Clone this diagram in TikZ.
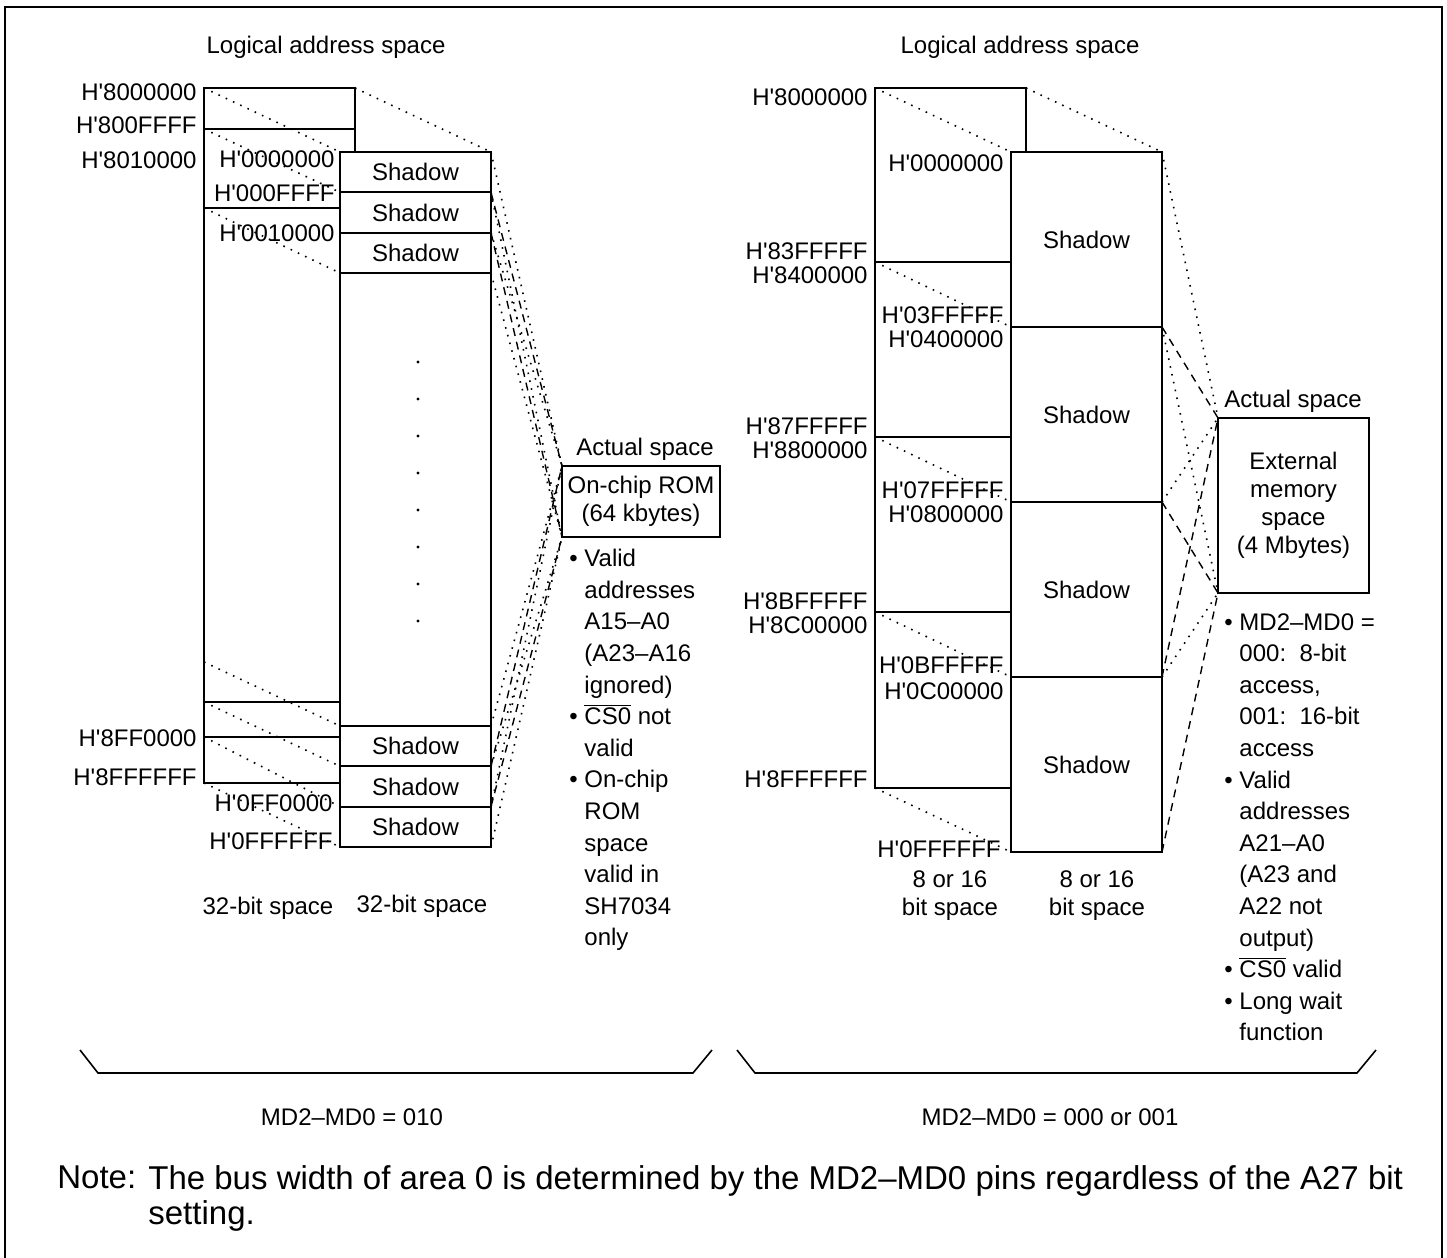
\documentclass[tikz,border=0pt]{standalone}
\usepackage{fontspec}
\setmainfont{Liberation Sans}
\usetikzlibrary{positioning}

\newcommand\hx[1]{H\textquotesingle #1}
\newcommand\ovbar[1]{\ensuremath{\overline{\mbox{#1}}}}
\newcommand\bul{\textbullet\ }
\newcommand\bulind{\phantom{\textbullet\ }}

\tikzset{
  membox/.style={draw, line width=1pt, minimum width=75.5pt, inner sep=0pt, outer sep=0pt, anchor=north west},
  shadowbox/.style={draw, fill=white, line width=1pt, minimum width=75.5pt, minimum height=20.17pt, inner sep=0pt, outer sep=0pt},
  bigshadow/.style={shadowbox, minimum height=87.5pt},
  addr/.style={anchor=east, inner sep=0pt},
  dotline/.style={line width=0.8pt, dash pattern=on 0.8pt off 3.2pt},
  dashline/.style={line width=0.7pt, dash pattern=on 4pt off 3pt},
  divline/.style={line width=1pt},
  notelist/.style={anchor=north west, align=left, inner sep=0pt}
}

\begin{document}
\begin{tikzpicture}[x=0.5pt, y=-0.5pt, every node/.style={font=\fontsize{12}{15.8}\selectfont}]
    \useasboundingbox (0,0) rectangle (1447,1258);
    % Frame
    \draw[line width=1pt] (5,1258) -- (5,7) -- (1442,7) -- (1442,1258);

    % ---------- MD2-MD0 = 010 ----------
    \node (titleA) at (326,47) {Logical address space};
    \node[membox, minimum height=347.5pt] (la) at (204,88) {};
    \coordinate (la1) at (204,129);
    \coordinate (la2) at (204,208);
    \coordinate (la3) at (204,662);
    \coordinate (la4) at (204,702);
    \coordinate (la5) at (204,737);
    \foreach \c in {la1,la2,la4,la5}
        \draw[divline] (\c) -- +(151,0);

    \node[membox, fill=white, minimum height=347.5pt] (ra) at (340,152) {};
    \node[shadowbox, anchor=north] (s1) at (ra.north) {Shadow};
    \node[shadowbox, below=0pt of s1] (s2) {Shadow};
    \node[shadowbox, below=0pt of s2] (s3) {Shadow};
    \node[shadowbox, anchor=south] (s6) at (ra.south) {Shadow};
    \node[shadowbox, above=0pt of s6] (s5) {Shadow};
    \node[shadowbox, above=0pt of s5] (s4) {Shadow};
    \foreach \k in {0,...,7}
        \fill (418,{362+37*\k}) circle (0.8pt);

    % Logical to shadow
    \draw[dotline] (la.north west) -- (ra.north west);
    \draw[dotline] (la.north east) -- (ra.north east);
    \draw[dotline] (la1) -- (s2.north west);
    \draw[dotline] (la2) -- (s3.south west);
    \draw[dotline] (la3) -- (s4.north west);
    \draw[dotline] (la4) -- (s5.north west);
    \draw[dotline] (la5) -- (s6.north west);
    \draw[dotline] (la.south west) -- (ra.south west);

    % Addresses
    \node[addr] (a1) at (197,92) {\hx{8000000}};
    \node[addr] (a2) at (197,125) {\hx{800FFFF}};
    \node[addr] (a3) at (197,160) {\hx{8010000}};
    \node[addr] (a4) at (197,738) {\hx{8FF0000}};
    \node[addr] (a5) at (197,777) {\hx{8FFFFFF}};
    \node[addr] (b1) at (335,159) {\hx{0000000}};
    \node[addr] (b2) at (335,193) {\hx{000FFFF}};
    \node[addr] (b3) at (335,233) {\hx{0010000}};
    \node[addr] (b4) at (333,803) {\hx{0FF0000}};
    \node[addr] (b5) at (333,841) {\hx{0FFFFFF}};
    \node (wA1) at (268,908) {32-bit space};
    \node (wA2) at (422,906) {32-bit space};

    % Actual space
    \node (titleR) at (645,449) {Actual space};
    \node[membox, minimum width=79pt, minimum height=35.5pt, align=center,
          font=\fontsize{12}{14}\selectfont] (rom) at (562,466) {On-chip ROM\\(64 kbytes)};
    \foreach \s/\st in {s1/dotline, s2/dashline, s3/dotline, s4/dotline, s5/dashline, s6/dotline} {
        \draw[\st] (\s.north east) -- (rom.north west);
        \draw[\st] (\s.south east) -- (rom.south west);
    }
    \node[notelist] (romnote) at (569,549) {\bul Valid\\ \bulind addresses\\ \bulind A15--A0\\
        \bulind (A23--A16\\ \bulind ignored)\\ \bul\ovbar{CS0} not\\ \bulind valid\\
        \bul On-chip\\ \bulind ROM\\ \bulind space\\ \bulind valid in\\ \bulind SH7034\\ \bulind only};

    % ---------- MD2-MD0 = 000 or 001 ----------
    \node (titleB) at (1020,47) {Logical address space};
    \node[membox, minimum height=350pt] (lb) at (875,88) {};
    \coordinate (lb1) at (875,262);
    \coordinate (lb2) at (875,437);
    \coordinate (lb3) at (875,612);
    \foreach \c in {lb1,lb2,lb3}
        \draw[divline] (\c) -- +(151,0);

    \node[membox, fill=white, minimum height=350pt] (rb) at (1011,152) {};
    \node[bigshadow, anchor=north] (t1) at (rb.north) {Shadow};
    \node[bigshadow, below=0pt of t1] (t2) {Shadow};
    \node[bigshadow, below=0pt of t2] (t3) {Shadow};
    \node[bigshadow, below=0pt of t3] (t4) {Shadow};

    \draw[dotline] (lb.north west) -- (rb.north west);
    \draw[dotline] (lb.north east) -- (rb.north east);
    \draw[dotline] (lb1) -- (t2.north west);
    \draw[dotline] (lb2) -- (t3.north west);
    \draw[dotline] (lb3) -- (t4.north west);
    \draw[dotline] (lb.south west) -- (rb.south west);

    \node[addr] (c1) at (868,97) {\hx{8000000}};
    \node[addr] (c2) at (868,251) {\hx{83FFFFF}};
    \node[addr] (c3) at (868,275) {\hx{8400000}};
    \node[addr] (c4) at (868,426) {\hx{87FFFFF}};
    \node[addr] (c5) at (868,450) {\hx{8800000}};
    \node[addr] (c6) at (868,601) {\hx{8BFFFFF}};
    \node[addr] (c7) at (868,625) {\hx{8C00000}};
    \node[addr] (c8) at (868,779) {\hx{8FFFFFF}};
    \node[addr] (d1) at (1004,163) {\hx{0000000}};
    \node[addr] (d2) at (1004,315) {\hx{03FFFFF}};
    \node[addr] (d3) at (1004,339) {\hx{0400000}};
    \node[addr] (d4) at (1004,490) {\hx{07FFFFF}};
    \node[addr] (d5) at (1004,514) {\hx{0800000}};
    \node[addr] (d6) at (1004,665) {\hx{0BFFFFF}};
    \node[addr] (d7) at (1004,691) {\hx{0C00000}};
    \node[addr] (d8) at (1001,849) {\hx{0FFFFFF}};
    \node[align=center, font=\fontsize{12}{14}\selectfont] (wB1) at (950,896) {8 or 16\\bit space};
    \node[align=center, font=\fontsize{12}{14}\selectfont] (wB2) at (1097,896) {8 or 16\\bit space};

    \node (titleX) at (1293,401) {Actual space};
    \node[membox, minimum height=87.5pt, align=center,
          font=\fontsize{12}{14}\selectfont] (ext) at (1218,418) {External\\memory\\space\\(4 Mbytes)};
    \foreach \s/\st in {t1/dotline, t2/dashline, t3/dotline, t4/dashline} {
        \draw[\st] (\s.north east) -- (ext.north west);
        \draw[\st] (\s.south east) -- (ext.south west);
    }
    \node[notelist] (extnote) at (1224,613) {\bul MD2--MD0 =\\ \bulind 000:\ \ 8-bit\\ \bulind access,\\
        \bulind 001:\ \ 16-bit\\ \bulind access\\ \bul Valid\\ \bulind addresses\\ \bulind A21--A0\\
        \bulind (A23 and\\ \bulind A22 not\\ \bulind output)\\ \bul\ovbar{CS0} valid\\
        \bul Long wait\\ \bulind function};

    % Braces and modes
    \draw[line width=0.8pt] (80,1050) -- (98,1073) -- (693,1073) -- (712,1050);
    \draw[line width=0.8pt] (737,1050) -- (755,1073) -- (1357,1073) -- (1376,1050);
    \node (modeA) at (352,1117) {MD2--MD0 = 010};
    \node (modeB) at (1050,1117) {MD2--MD0 = 000 or 001};

    % Note
    \node[anchor=north west, inner sep=0pt, font=\fontsize{16.5}{17.5}\selectfont] (notehead) at (57,1165) {Note:};
    \node[notelist, font=\fontsize{16.5}{17.5}\selectfont] (notetext) at (148,1165)
        {The bus width of area 0 is determined by the MD2--MD0 pins regardless of the A27 bit\\setting.};
\end{tikzpicture}
\end{document}
